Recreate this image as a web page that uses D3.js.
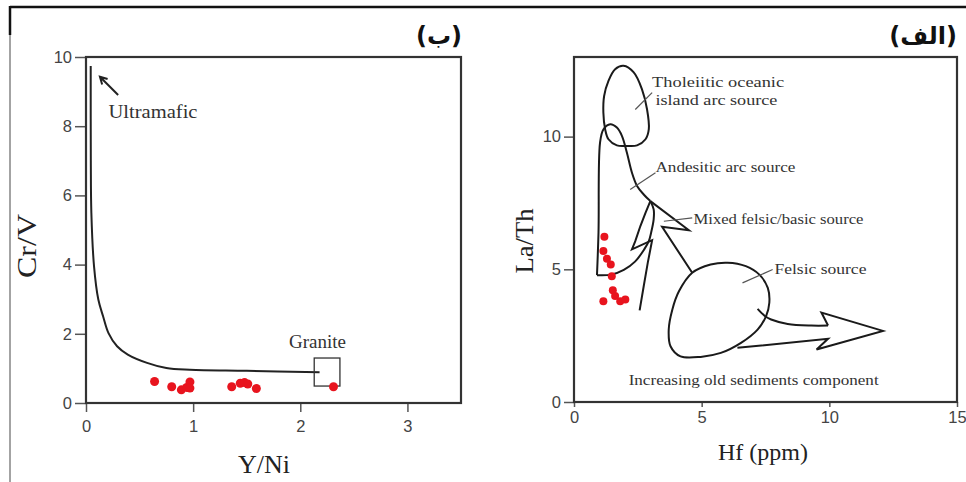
<!DOCTYPE html>
<html>
<head>
<meta charset="utf-8">
<script src="https://cdn.jsdelivr.net/npm/d3@7"></script>
<style>
  body { margin: 0; background: #fff; }
  svg { display: block; }
  .tick text { font-family: "Liberation Sans", Arial, sans-serif; font-size: 16.5px; fill: #444; }
  .tick line { stroke: #555; stroke-width: 1.5; }
  .note { font-family: "Liberation Serif", "Times New Roman", serif; fill: #333; }
</style>
</head>
<body>
<svg id="chart" width="966" height="482"></svg>
<script>
// --- panel (ب): Cr/V vs Y/Ni ---
const ynX = [0.64, 0.80, 0.89, 0.94, 0.97, 0.97, 1.36, 1.44, 1.48, 1.51, 1.59, 2.31];
const crV = [0.62, 0.47, 0.38, 0.45, 0.61, 0.43, 0.47, 0.57, 0.59, 0.55, 0.42, 0.47];
const trendX = [0.044, 0.045, 0.05, 0.075, 0.115, 0.16, 0.21, 0.29, 0.39, 0.57, 0.75, 0.97, 1.5, 2.18];
const trendY = [9.74, 7.0, 5.5, 3.95, 2.99, 2.5, 2.02, 1.64, 1.40, 1.16, 1.01, 0.96, 0.93, 0.89];
const graniteBox = [2.13, 2.37, 0.49, 1.30]; // x0, x1, y0, y1
const leftXTicks = [0, 1, 2, 3];
const leftYTicks = [0, 2, 4, 6, 8, 10];

// --- panel (الف): La/Th vs Hf ---
const hfX = [1.19, 1.15, 1.29, 1.44, 1.48, 1.52, 1.61, 1.81, 2.01, 1.15];
const laTh = [6.23, 5.69, 5.40, 5.18, 4.74, 4.21, 3.99, 3.80, 3.86, 3.80];
const tholeiiticField = [[1.94,12.67],[2.34,12.42],[2.66,11.79],[2.86,11.03],[2.93,10.28],[2.80,9.90],[2.47,9.67],
  [2.07,9.65],[1.68,9.67],[1.35,9.90],[1.22,10.28],[1.15,10.91],[1.18,11.53],[1.35,12.10],[1.61,12.54]];
const andesiticTop = [[0.9,4.78],[0.96,6.4],[1.02,9.77],[1.15,10.27],[1.42,10.47],[1.68,10.34],[1.88,10.02],
  [2.07,9.40],[2.27,8.64],[2.47,8.14],[2.73,7.82],[2.99,7.57]];
const andesiticBottom = [[0.9,4.78],[1.45,4.8],[1.95,4.98],[2.4,5.3],[2.75,5.75],[2.93,6.06],[3.02,6.38],
  [3.12,6.88],[3.12,7.26],[2.99,7.57]];
const mixedLeft = [[2.99,7.57],[2.80,7.13],[2.60,6.63],[2.40,6.06],[2.27,5.75],[3.06,6.10],[2.89,5.25],[2.73,4.36],[2.57,3.45]];
const mixedRight = [[2.99,7.57],[4.5,6.47],[3.45,6.6],[4.63,4.87]];
const felsicField = [[4.63,4.87],[5.35,5.18],[6.01,5.25],[6.73,5.12],[7.26,4.80],[7.59,4.30],[7.65,3.74],[7.52,3.23],
  [7.19,2.73],[6.54,2.23],[5.75,1.85],[4.96,1.70],[4.17,1.72],[3.78,2.10],[3.71,2.73],[3.85,3.48],[4.11,4.17]];
const arrowShaft = [[7.19,3.51],[7.5,3.22],[7.72,3.11],[8.37,2.94],[9.29,2.88],[9.95,2.88]];
const arrowHead = [[9.95,2.88],[9.69,3.37],[12.1,2.68],[9.5,1.98],[9.95,2.38],[6.40,2.04]];
const leaders = [[[2.40,11.02],[3.06,11.66]], [[2.20,8.01],[3.19,8.64]], [[3.52,6.81],[4.63,6.94]], [[6.60,4.49],[7.78,4.99]]];
const rightXTicks = [0, 5, 10, 15];
const rightYTicks = [0, 5, 10];

const svg = d3.select("#chart");

// marco exterior
svg.append("line").attr("x1", 10).attr("x2", 966).attr("y1", 7).attr("y2", 7)
  .style("stroke", "#111").style("stroke-width", 2.5);
svg.append("line").attr("x1", 10).attr("x2", 10).attr("y1", 6).attr("y2", 35)
  .style("stroke", "#111").style("stroke-width", 2.5);
svg.append("line").attr("x1", 10).attr("x2", 10).attr("y1", 35).attr("y2", 482)
  .style("stroke", "#666").style("stroke-width", 1.2);

function drawAxes(g, x, y, xt, yt, xTick, xPad, yTick) {
  g.append("g").attr("transform", `translate(0,${y.range()[0]})`)
    .call(d3.axisBottom(x).tickValues(xt).tickSize(xTick).tickPadding(xPad).tickFormat(d3.format("d")))
    .call(a => a.select(".domain").remove());
  g.append("g").attr("transform", `translate(${x.range()[0]},0)`)
    .call(d3.axisLeft(y).tickValues(yt).tickSize(yTick).tickPadding(3).tickFormat(d3.format("d")))
    .call(a => a.select(".domain").remove());
  g.append("rect")
    .attr("x", x.range()[0]).attr("y", y.range()[1])
    .attr("width", x.range()[1] - x.range()[0]).attr("height", y.range()[0] - y.range()[1])
    .style("fill", "none").style("stroke", "#333").style("stroke-width", 2.2);
}

// ================= panel izquierdo =================
const xL = d3.scaleLinear().domain([0, 3.5]).range([86, 461]);
const yL = d3.scaleLinear().domain([0, 10]).range([403, 57]);
const gL = svg.append("g");
drawAxes(gL, xL, yL, leftXTicks, leftYTicks, 9, 8, 11);

const trend = trendX.map((d, i) => [d, trendY[i]]);
gL.append("path")
  .attr("d", d3.line().x(d => xL(d[0])).y(d => yL(d[1])).curve(d3.curveCatmullRom)(trend))
  .style("fill", "none").style("stroke", "#222").style("stroke-width", 2);

gL.append("rect")
  .attr("x", xL(graniteBox[0])).attr("y", yL(graniteBox[3]))
  .attr("width", xL(graniteBox[1]) - xL(graniteBox[0]))
  .attr("height", yL(graniteBox[2]) - yL(graniteBox[3]))
  .style("fill", "none").style("stroke", "#333").style("stroke-width", 1.3);

// flecha Ultramafic
const a0 = [xL(0.30), yL(8.90)], a1 = [xL(0.13), yL(9.43)];
const ang = Math.atan2(a1[1] - a0[1], a1[0] - a0[0]);
const barb = 8;
gL.append("path")
  .attr("d", `M${a0[0]},${a0[1]}L${a1[0]},${a1[1]}` +
    `M${a1[0] - barb * Math.cos(ang - 0.5)},${a1[1] - barb * Math.sin(ang - 0.5)}L${a1[0]},${a1[1]}` +
    `L${a1[0] - barb * Math.cos(ang + 0.5)},${a1[1] - barb * Math.sin(ang + 0.5)}`)
  .style("fill", "none").style("stroke", "#222").style("stroke-width", 2);

gL.append("text").attr("class", "note").attr("x", xL(0.21)).attr("y", yL(8.24))
  .attr("font-size", 19).attr("textLength", 89).attr("lengthAdjust", "spacingAndGlyphs").text("Ultramafic");
gL.append("text").attr("class", "note").attr("x", xL(2.16)).attr("y", yL(1.59))
  .attr("text-anchor", "middle").attr("font-size", 19).text("Granite");

gL.selectAll("circle.pt")
  .data(ynX.map((d, i) => [d, crV[i]]))
  .enter().append("circle").attr("class", "pt")
  .attr("cx", d => xL(d[0])).attr("cy", d => yL(d[1])).attr("r", 4.5)
  .style("fill", "#e8141e");

svg.append("text").attr("class", "note")
  .attr("transform", "translate(36,246) rotate(-90)")
  .attr("text-anchor", "middle").attr("font-size", 27).attr("textLength", 64)
  .attr("lengthAdjust", "spacingAndGlyphs").style("fill", "#222").text("Cr/V");
svg.append("text").attr("class", "note").attr("x", 264).attr("y", 473)
  .attr("text-anchor", "middle").attr("font-size", 26).style("fill", "#222").text("Y/Ni");
svg.append("text").attr("x", 462).attr("y", 44).attr("text-anchor", "end")
  .style("font-family", "DejaVu Sans").style("font-weight", "bold").style("font-size", "24px")
  .style("fill", "#111").text("(ب)");

// ================= panel derecho =================
const xR = d3.scaleLinear().domain([0, 15]).range([574, 957]);
const yR = d3.scaleLinear().domain([0, 13]).range([402, 57]);
const gR = svg.append("g");
drawAxes(gR, xR, yR, rightXTicks, rightYTicks, 5, 4, 10);

const lineR = d3.line().x(d => xR(d[0])).y(d => yR(d[1]));
const fieldStyle = p => p.style("fill", "none").style("stroke", "#1a1a1a").style("stroke-width", 2);

gR.append("path").attr("d", lineR.curve(d3.curveCatmullRomClosed)(tholeiiticField)).call(fieldStyle);
gR.append("path").attr("d", lineR.curve(d3.curveCatmullRomClosed)(felsicField)).call(fieldStyle);
gR.append("path").attr("d", lineR.curve(d3.curveCatmullRom)(andesiticTop)).call(fieldStyle);
gR.append("path").attr("d", lineR.curve(d3.curveCatmullRom)(andesiticBottom)).call(fieldStyle);
gR.append("path").attr("d", lineR.curve(d3.curveCatmullRom)(arrowShaft)).call(fieldStyle);
gR.append("path").attr("d", lineR.curve(d3.curveLinear)(arrowHead)).call(fieldStyle);
gR.append("path").attr("d", lineR.curve(d3.curveLinear)(mixedLeft)).call(fieldStyle);
gR.append("path").attr("d", lineR.curve(d3.curveLinear)(mixedRight)).call(fieldStyle);

leaders.forEach(l => {
  gR.append("path").attr("d", lineR.curve(d3.curveLinear)(l))
    .style("fill", "none").style("stroke", "#555").style("stroke-width", 1.2);
});

// etiquetas de campos
const notes = [
  ["Tholeiitic oceanic", 3.06, 11.86, 132],
  ["island arc source", 3.19, 11.18, 122],
  ["Andesitic arc source", 3.19, 8.67, 140],
  ["Mixed felsic/basic source", 4.68, 6.71, 170],
  ["Felsic source", 7.85, 4.82, 92],
  ["Increasing old sediments component", 2.14, 0.65, 250]
];
notes.forEach(n => {
  gR.append("text").attr("class", "note")
    .attr("x", xR(n[1])).attr("y", yR(n[2]))
    .attr("font-size", 15).attr("textLength", n[3]).attr("lengthAdjust", "spacingAndGlyphs")
    .text(n[0]);
});

gR.selectAll("circle.pt")
  .data(hfX.map((d, i) => [d, laTh[i]]))
  .enter().append("circle").attr("class", "pt")
  .attr("cx", d => xR(d[0])).attr("cy", d => yR(d[1])).attr("r", 4)
  .style("fill", "#e8141e");

svg.append("text").attr("class", "note")
  .attr("transform", "translate(533,241) rotate(-90)")
  .attr("text-anchor", "middle").attr("font-size", 26).attr("textLength", 65)
  .attr("lengthAdjust", "spacingAndGlyphs").style("fill", "#222").text("La/Th");
svg.append("text").attr("class", "note").attr("x", 763).attr("y", 460)
  .attr("text-anchor", "middle").attr("font-size", 24).style("fill", "#222").text("Hf (ppm)");
svg.append("text").attr("x", 957).attr("y", 44).attr("text-anchor", "end")
  .style("font-family", "DejaVu Sans").style("font-weight", "bold").style("font-size", "24px")
  .style("fill", "#111").text("(الف)");
</script>
</body>
</html>
